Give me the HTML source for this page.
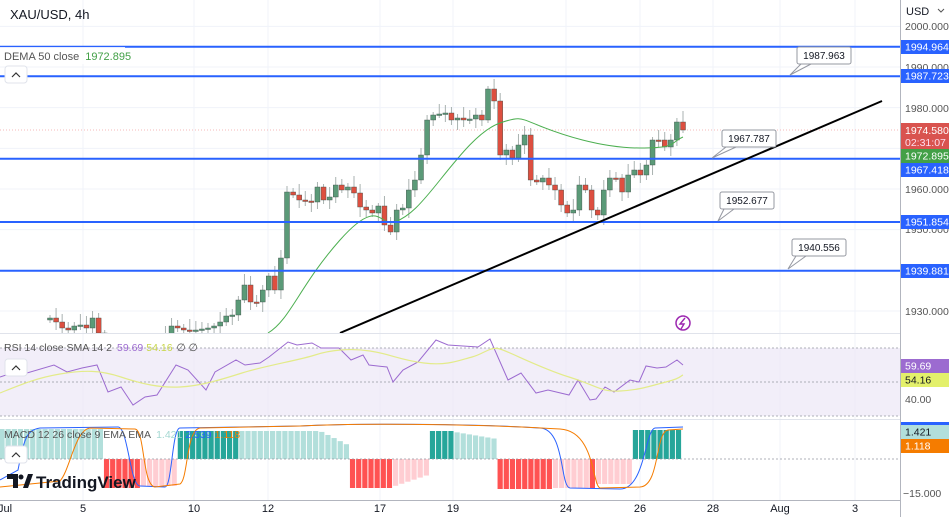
<!DOCTYPE html>
<html><head><meta charset="utf-8"><style>
html,body{margin:0;padding:0;background:#fff;width:949px;height:517px;overflow:hidden}
svg{display:block;font-family:"Liberation Sans",sans-serif}
</style></head><body>
<svg id="s" width="949" height="517" xmlns="http://www.w3.org/2000/svg"></svg>
<script>
const s=document.getElementById('s');let h='';
const Y=p=>67+(1990-p)*4.067;
const vx=[83,194,268,380,453,566,640,713,780,855];
vx.forEach(x=>h+=`<line x1="${x}" y1="0" x2="${x}" y2="500" stroke="#f0f3fa"/>`);
[2000,1990,1980,1970,1960,1950,1940,1930].forEach(p=>h+=`<line x1="0" y1="${Y(p)}" x2="900" y2="${Y(p)}" stroke="#f0f3fa"/>`);
h+=`<line x1="0" y1="130" x2="900" y2="130" stroke="#f3a3a3" stroke-dasharray="1,2" stroke-width="0.8"/>`;
const cl=[318,322,328,330,326,325,328,318,333,345,350,355,350,345,348,352,345,340,338,336,326,328,330,331,330,329,328,326,322,316,315,300,285,302,302,290,276,290,258,192,
195,200,201,202,187,200,197,185,190,187,193,207,210,213,206,225,232,210,208,190,180,155,120,115,114,113,120,118,120,119,115,120,89,
101,155,150,158,145,135,180,182,178,185,190,205,213,210,185,190,210,215,190,178,178,192,175,170,175,165,140,140,147,140,122,130];
const N=cl.length;
// piecewise x mapping: index 0->50, 39->287, 72->488, N-1->683
function X(i){if(i<=39)return 50+i*(237/39);if(i<=72)return 287+(i-39)*(201/33);return 488+(i-72)*(195/(N-1-72));}
h+=`<svg x="0" y="0" width="900" height="333" overflow="hidden">`;
let prev=320;
for(let i=0;i<N;i++){const x=X(i);const o=prev,c=cl[i];const up=c<o;const col=up?'#5b9a78':'#dd4f40';
const t=Math.min(o,c)-3-((i*7)%9),b=Math.max(o,c)+3+((i*5)%8);
h+=`<line x1="${x}" y1="${t}" x2="${x}" y2="${b}" stroke="#a9b2b0" stroke-width="1"/>`;
h+=`<rect x="${x-2.5}" y="${Math.min(o,c)}" width="5" height="${Math.max(1.5,Math.abs(o-c))}" fill="${col}" stroke="#3d4d45" stroke-width="0.4"/>`;prev=c;}
h+=`</svg>`;
h+=`<path d="M268,333 C290,320 300,285 340,240 S380,228 395,222 S420,205 440,180 S480,130 500,123 S520,118 540,126 S600,148 640,148 S670,142 683,137" fill="none" stroke="#4caf50" stroke-width="1"/>`;
[46.8,76.3,158.8,222,270.8].forEach(y=>h+=`<line x1="0" y1="${y}" x2="900" y2="${y}" stroke="#2962ff" stroke-width="2"/>`);
h+=`<line x1="340" y1="333" x2="882" y2="101" stroke="#000" stroke-width="2"/>`;
function co(x,y,t,px,py){h+=`<path d="M${x+14},${y+17} L${px},${py} L${x+4},${y+17}" fill="#fff" stroke="#9598a1"/><rect x="${x}" y="${y}" width="54" height="17" rx="2" fill="#fff" stroke="#9598a1"/><text x="${x+27}" y="${y+12}" font-size="10" text-anchor="middle" fill="#131722">${t}</text>`;}
co(797,47,'1987.963',790,75);co(722,130,'1967.787',712,158);co(720,192,'1952.677',718,221);co(792,239,'1940.556',788,269);
h+=`<circle cx="683" cy="323" r="7" fill="none" stroke="#9c27b0" stroke-width="1.5"/><path d="M685,318 L680,324 L684,324 L681,329" fill="none" stroke="#9c27b0" stroke-width="1.4"/>`;
h+=`<line x1="0" y1="333.5" x2="949" y2="333.5" stroke="#e0e3eb"/><line x1="0" y1="419.5" x2="949" y2="419.5" stroke="#e0e3eb"/><line x1="0" y1="500.5" x2="949" y2="500.5" stroke="#b2b5be"/><line x1="900.5" y1="0" x2="900.5" y2="517" stroke="#b2b5be"/>`;
h+=`<rect x="0" y="348" width="900" height="68" fill="#ede7f6" opacity="0.7"/>`;
[348,382,416].forEach(y=>h+=`<line x1="0" y1="${y}" x2="900" y2="${y}" stroke="#9598a1" stroke-dasharray="2,2" stroke-width="0.8"/>`);
const rsi=[[0,377],[15,372],[27,373],[54,365],[67,372],[82,368],[97,365],[108,392],[121,387],[133,405],[145,397],[157,395],[176,365],[188,370],[206,390],[215,372],[236,360],[245,365],[260,363],[269,357],[288,342],[297,345],[312,343],[321,348],[339,348],[351,360],[363,355],[369,365],[387,367],[393,382],[403,370],[418,362],[436,340],[448,345],[478,347],[490,339],[508,380],[521,373],[536,393],[548,390],[569,395],[578,380],[590,400],[596,399],[605,387],[614,392],[630,380],[639,382],[646,366],[657,368],[666,367],[677,360],[683,365]];
h+=`<polyline points="${rsi.map(p=>p.join(',')).join(' ')}" fill="none" stroke="#9c6bd0" stroke-width="1"/>`;
h+=`<path d="M0,393 C20,385 36,378 60,374 S100,370 121,377 S160,388 180,387 S220,380 242,373 S300,360 315,355 S350,348 370,351 S400,360 424,363 S460,360 472,357 S490,346 500,349 S540,368 569,377 S600,392 620,391 S650,386 666,382 S680,376 683,375" fill="none" stroke="#e3eb8a" stroke-width="1.2"/>`;
for(let x=2;x<=683;x+=6.15){let v,col;
if(x<105){v=-30;col='#b2dfdb'}else if(x<140){v=29;col='#ff5252'}else if(x<175){v=27;col='#ffcdd2'}
else if(x<240){v=-28;col='#26a69a'}else if(x<350){v=-28+Math.max(0,(x-320)/2);col='#b2dfdb'}
else if(x<395){v=29;col='#ff5252'}else if(x<432){v=27-(x-395)/3;col='#ffcdd2'}
else if(x<455){v=-28;col='#26a69a'}else if(x<500){v=-27+(x-455)/6;col='#b2dfdb'}
else if(x<552){v=30;col='#ff5252'}else if(x<588){v=29;col='#ffcdd2'}else if(x<598){v=29;col='#ff5252'}
else if(x<630){v=25;col='#ffcdd2'}else{v=-29;col='#26a69a'}
h+=`<rect x="${x-2.6}" y="${v<0?459+v:459}" width="5.2" height="${Math.abs(v)}" fill="${col}"/>`;}
h+=`<line x1="0" y1="459" x2="900" y2="459" stroke="#9598a1" stroke-dasharray="2,2" stroke-width="0.7"/>`;
h+=`<path d="M0,480 L18,470 C24,440 26,430 40,428 L118,427 C128,427 130,486 140,486 L165,487 C172,487 172,428 180,428 L300,426 C360,423 480,424 540,428 C565,429 560,487 570,488 L620,489 C645,489 645,430 655,428 L683,427" fill="none" stroke="#2962ff" stroke-width="1"/>`;
h+=`<path d="M0,487 L60,481 C70,470 75,430 90,428 L135,429 C145,430 142,485 155,487 L180,484 C188,480 186,430 200,428 L300,426 C360,423 480,424 560,429 C595,431 592,485 600,488 L640,487 C660,486 655,432 668,430 L683,429" fill="none" stroke="#f57c00" stroke-width="1"/>`;
h+=`<rect x="0" y="47" width="125" height="17" fill="#fff" opacity="0.85"/>`;
h+=`<text x="10" y="19" font-size="13" fill="#131722">XAU/USD, 4h</text>`;
h+=`<text x="4" y="60" font-size="11" fill="#555"><tspan>DEMA 50 close</tspan><tspan dx="6" fill="#43a047">1972.895</tspan></text>`;
h+=`<rect x="5" y="66" width="22" height="17" rx="3" fill="#fff" stroke="#e0e3eb"/><path d="M12,77 L16,73 L20,77" fill="none" stroke="#333" stroke-width="1.2"/>`;
h+=`<text x="4" y="351" font-size="10.5" fill="#555"><tspan>RSI 14 close SMA 14 2</tspan><tspan dx="5" fill="#9c6bd0">59.69</tspan><tspan dx="3" fill="#c8d64a">54.16</tspan><tspan dx="4">∅ ∅</tspan></text>`;
h+=`<rect x="5" y="359" width="22" height="17" rx="3" fill="#fff" stroke="#e0e3eb"/><path d="M12,370 L16,366 L20,370" fill="none" stroke="#333" stroke-width="1.2"/>`;
h+=`<text x="4" y="438" font-size="10.5" fill="#555"><tspan>MACD 12 26 close 9 EMA EMA</tspan><tspan dx="5" fill="#a5d8d2">1.421</tspan><tspan dx="3" fill="#2962ff">2.539</tspan><tspan dx="3" fill="#f57c00">1.118</tspan></text>`;
h+=`<rect x="5" y="446" width="22" height="17" rx="3" fill="#fff" stroke="#e0e3eb"/><path d="M12,457 L16,453 L20,457" fill="none" stroke="#333" stroke-width="1.2"/>`;
h+=`<path d="M7,474 h11 v14 h-5 v-9 h-6z M23,488 l5,-14 h5 l-5,14z" fill="#131722"/><circle cx="21" cy="477" r="2.5" fill="#131722"/>`;
h+=`<text x="36" y="488" font-size="17" font-weight="bold" fill="#131722">TradingView</text>`;
h+=`<rect x="901" y="0" width="48" height="517" fill="#fff"/>`;
h+=`<text x="906" y="15" font-size="11" fill="#131722">USD</text><path d="M938,9 l3,3 l3,-3" fill="none" stroke="#555"/>`;
[[2000,26],[1990,67],[1980,108],[1960,189],[1950,229],[1930,311]].forEach(a=>h+=`<text x="905" y="${a[1]+4}" font-size="10.5" fill="#555">${a[0]}.000</text>`);
function tag(y,hh,col,t,tc){h+=`<rect x="901" y="${y}" width="48" height="${hh}" fill="${col}"/><text x="905" y="${y+10.5}" font-size="10.5" fill="${tc||'#fff'}">${t}</text>`;}
tag(40,14,'#2962ff','1994.964');tag(69,14,'#2962ff','1987.723');
h+=`<rect x="901" y="123" width="48" height="26" fill="#d9534f"/><text x="905" y="134" font-size="10.5" fill="#fff">1974.580</text><text x="905" y="146" font-size="10.5" fill="#fde">02:31:07</text>`;
tag(149,14,'#43a047','1972.895');tag(163,14,'#2962ff','1967.418');
tag(215,14,'#2962ff','1951.854');tag(264,14,'#2962ff','1939.881');
tag(359,14,'#9c6bd0','59.69');tag(373,14,'#e3f06b','54.16','#131722');
h+=`<text x="905" y="403" font-size="10.5" fill="#555">40.00</text>`;
h+=`<rect x="901" y="422" width="48" height="3" fill="#2962ff"/>`;
tag(425,14,'#b2dfdb','1.421','#131722');tag(439,14,'#f57c00','1.118');
h+=`<text x="903" y="497" font-size="10.5" fill="#555">−15.000</text>`;
[['Jul',5],['5',83],['10',194],['12',268],['17',380],['19',453],['24',566],['26',640],['28',713],['Aug',780],['3',855]].forEach(a=>h+=`<text x="${a[1]}" y="512" font-size="11" fill="#131722" text-anchor="middle">${a[0]}</text>`);
s.innerHTML=h;
</script>
</body></html>
